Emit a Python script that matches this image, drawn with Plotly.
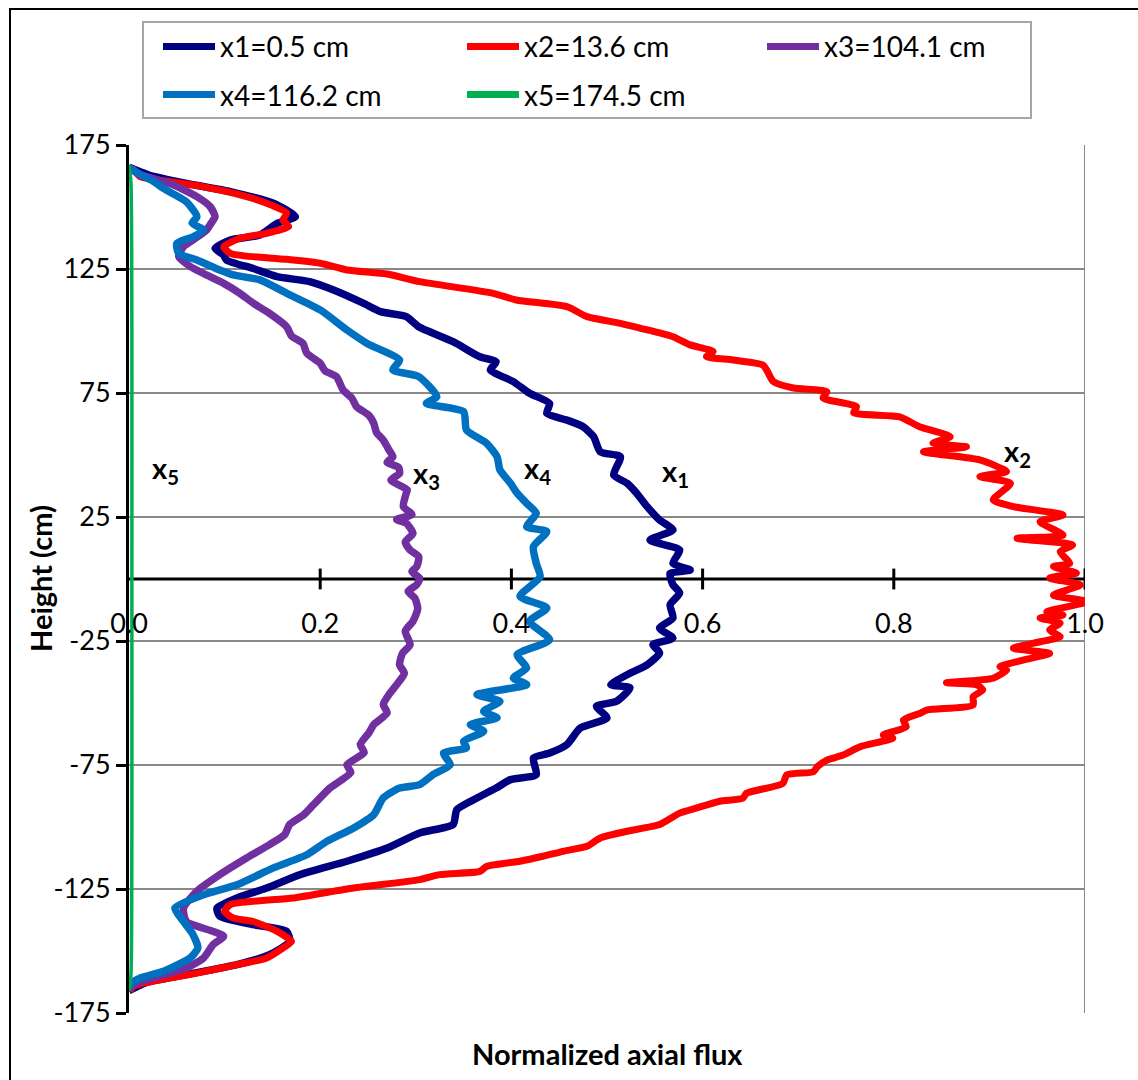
import plotly.graph_objects as go

# ---- data: (height cm, normalized axial flux) read along each traverse ----
SERIES_NAMES = ["x1=0.5 cm", "x2=13.6 cm", "x3=104.1 cm", "x4=116.2 cm", "x5=174.5 cm"]
SERIES_COLORS = ["#000080", "#ff0000", "#7030a0", "#0070c0", "#00b050"]

X1_PROFILE = [
    (166, 0.0), (163, 0.02), (159.5, 0.060), (156.2, 0.106), (151.5, 0.151), (146.1, 0.174),
    (143.4, 0.155), (138.7, 0.137), (136.7, 0.106), (133.3, 0.090), (130.6, 0.099), (128.6, 0.102),
    (125.2, 0.130), (121.9, 0.155), (119.9, 0.189), (116.5, 0.214), (111.2, 0.245), (107.8, 0.263),
    (105.8, 0.290), (101.7, 0.303), (95.7, 0.339), (89.6, 0.367), (87.6, 0.384), (84.3, 0.378),
    (79.6, 0.402), (74.9, 0.419), (70.8, 0.440), (66.8, 0.437), (64.1, 0.458), (61.4, 0.475),
    (57.4, 0.486), (51.3, 0.493), (49.3, 0.514), (41.9, 0.507), (38.6, 0.521), (34.6, 0.531),
    (29.2, 0.542), (23.8, 0.555), (19.8, 0.569), (15.7, 0.545), (11.7, 0.576), (6.3, 0.569),
    (3.6, 0.587), (2.3, 0.566), (-2.3, 0.569), (-5.6, 0.576), (-10.4, 0.566), (-15.7, 0.569),
    (-19.8, 0.555), (-23.8, 0.569), (-26.5, 0.548), (-29.8, 0.555), (-34.6, 0.542), (-38.6, 0.521),
    (-42.6, 0.504), (-43.9, 0.524), (-49.3, 0.510), (-51.3, 0.489), (-56, 0.500), (-60.1, 0.472),
    (-66.8, 0.458), (-70.2, 0.440), (-72.2, 0.423), (-78.9, 0.426), (-80.9, 0.399), (-84.3, 0.384),
    (-88.3, 0.364), (-93, 0.343), (-99, 0.339), (-102.4, 0.304), (-108.5, 0.270), (-113.8, 0.228),
    (-119.2, 0.179), (-124.6, 0.144), (-128.6, 0.113), (-132.7, 0.092), (-136, 0.095), (-139.4, 0.130),
    (-142.1, 0.165), (-146.2, 0.168), (-151.5, 0.147), (-155.5, 0.113), (-159.5, 0.060), (-162.5, 0.02),
    (-166, 0.0),
]

X2_PROFILE = [
    (166, 0.003), (162.2, 0.012), (160.2, 0.043), (158.2, 0.077), (154.2, 0.123), (151.5, 0.144),
    (147.5, 0.165), (144.8, 0.161), (142.1, 0.167), (139.4, 0.144), (137.4, 0.116), (134, 0.099),
    (131.3, 0.106), (130.2, 0.123), (128.9, 0.165), (127.3, 0.200), (124.6, 0.228), (123, 0.270),
    (119.9, 0.304), (115.2, 0.381), (112.5, 0.405), (109.8, 0.458), (105.8, 0.479), (103.1, 0.514),
    (101.1, 0.535), (97.7, 0.569), (94.4, 0.587), (91.7, 0.611), (89.7, 0.604), (88.3, 0.632),
    (86.3, 0.663), (84.3, 0.667), (79.6, 0.674), (77, 0.695), (75.5, 0.730), (73, 0.726),
    (69.5, 0.761), (67, 0.758), (65.4, 0.806), (61.4, 0.827), (57.4, 0.859), (54.8, 0.841),
    (53.3, 0.876), (51.3, 0.831), (48, 0.890), (43.3, 0.918), (41.3, 0.890), (38.6, 0.922),
    (31.9, 0.904), (29.2, 0.925), (25.8, 0.977), (23.1, 0.953), (17.7, 0.977), (16.4, 0.929),
    (13.7, 0.987), (11, 0.974), (6.3, 0.984), (5, 0.967), (2.4, 0.991), (0.4, 0.963),
    (-2.4, 0.995), (-6.5, 0.967), (-9.1, 1.002), (-13.2, 0.960), (-14.5, 0.977), (-15.7, 0.953),
    (-17.8, 0.974), (-20.6, 0.963), (-23.3, 0.974), (-25.3, 0.953), (-27.9, 0.925), (-30, 0.963),
    (-32.7, 0.935), (-35.4, 0.911), (-36.7, 0.918), (-40, 0.904), (-41.8, 0.855), (-42.7, 0.887),
    (-44.8, 0.893), (-47.4, 0.883), (-50.8, 0.883), (-52.8, 0.835), (-54.2, 0.827), (-56.9, 0.810),
    (-59.6, 0.813), (-62.9, 0.789), (-64.2, 0.799), (-67.6, 0.765), (-71, 0.747), (-73, 0.730),
    (-75.7, 0.720), (-77.7, 0.716), (-79, 0.688), (-82.4, 0.684), (-86.4, 0.646), (-88.4, 0.642),
    (-89.6, 0.618), (-92.3, 0.594), (-94.4, 0.576), (-99, 0.555), (-101.7, 0.521), (-104.4, 0.493),
    (-107.8, 0.479), (-109.8, 0.454), (-111.8, 0.433), (-113.8, 0.409), (-115.9, 0.374), (-117.9, 0.367),
    (-119.2, 0.325), (-121.2, 0.304), (-124.6, 0.235), (-128.6, 0.172), (-131.3, 0.106), (-134, 0.100),
    (-136.7, 0.109), (-138.1, 0.130), (-142.1, 0.155), (-146.2, 0.170), (-148.8, 0.161), (-152.8, 0.144),
    (-155.5, 0.113), (-158.9, 0.071), (-162.2, 0.025), (-164.2, 0.005), (-166.3, 0.001),
]

X3_PROFILE = [
    (166, 0.0), (163, 0.012), (159.5, 0.043), (154.2, 0.071), (150.1, 0.085), (146.1, 0.090),
    (143.5, 0.086), (140.7, 0.081), (136.7, 0.067), (134, 0.057), (130, 0.052), (126, 0.064),
    (122.6, 0.081), (119.2, 0.099), (115.2, 0.116), (111.2, 0.130), (107.1, 0.147), (101.7, 0.165),
    (98, 0.170), (95, 0.182), (91, 0.186), (87, 0.200), (84, 0.205), (81.6, 0.217), (76.2, 0.224),
    (73, 0.233), (69.5, 0.238), (66, 0.251), (62.8, 0.256), (59, 0.259), (56, 0.266),
    (52, 0.272), (49.3, 0.276), (47, 0.270), (45, 0.282), (42.6, 0.283), (39.9, 0.274),
    (36, 0.291), (34.6, 0.290), (29.2, 0.287), (26, 0.296), (24, 0.280), (22.5, 0.290),
    (18.4, 0.297), (15, 0.289), (11.7, 0.294), (9, 0.303), (5, 0.301), (3, 0.296),
    (0.3, 0.304), (-2.3, 0.301), (-5, 0.292), (-7.7, 0.299), (-12, 0.302), (-17.1, 0.297),
    (-21, 0.289), (-26.5, 0.294), (-30, 0.286), (-34.6, 0.283), (-38, 0.288), (-42.6, 0.280),
    (-46, 0.273), (-50.6, 0.266), (-54, 0.270), (-58.7, 0.256), (-62, 0.251), (-66.8, 0.242),
    (-70, 0.246), (-74.9, 0.228), (-78, 0.232), (-84.3, 0.210), (-91, 0.193), (-95, 0.183),
    (-99, 0.168), (-103, 0.163), (-107.1, 0.147), (-112.5, 0.123), (-119.2, 0.095), (-125.9, 0.071),
    (-132.7, 0.057), (-138.1, 0.060), (-142.1, 0.088), (-144.1, 0.099), (-147.4, 0.088), (-152.8, 0.078),
    (-156.9, 0.060), (-160.9, 0.025), (-163.5, 0.005), (-165.5, 0.0),
]

X4_PROFILE = [
    (166, 0.0), (163, 0.012), (160.5, 0.025), (157.5, 0.036), (152.1, 0.060), (146.1, 0.071),
    (143.5, 0.066), (140.7, 0.078), (138, 0.067), (135.3, 0.050), (131.3, 0.052), (128.6, 0.071),
    (124.6, 0.095), (122.6, 0.109), (120.6, 0.137), (115.2, 0.165), (108.5, 0.200), (100.4, 0.228),
    (95, 0.249), (88.3, 0.283), (84.3, 0.276), (81.6, 0.303), (73.5, 0.322), (70.8, 0.311),
    (67.5, 0.350), (60.1, 0.353), (54.7, 0.374), (49.3, 0.385), (44, 0.388), (38.6, 0.399),
    (34.6, 0.406), (30.5, 0.416), (26.5, 0.426), (21.1, 0.416), (19.1, 0.437), (13, 0.423),
    (6.3, 0.426), (0.9, 0.430), (-7, 0.409), (-11.7, 0.437), (-17.1, 0.419), (-24.5, 0.440),
    (-30.5, 0.406), (-35.9, 0.416), (-39.9, 0.402), (-42.6, 0.416), (-46.6, 0.364), (-49.3, 0.388),
    (-53.4, 0.371), (-56, 0.385), (-58.7, 0.357), (-61.4, 0.371), (-65.4, 0.350), (-68.1, 0.353),
    (-70.2, 0.329), (-74.9, 0.336), (-78.9, 0.318), (-82.9, 0.304), (-84.3, 0.283), (-88.3, 0.266),
    (-95, 0.256), (-100.4, 0.235), (-105.8, 0.207), (-111.2, 0.186), (-116.5, 0.151), (-123.3, 0.113),
    (-127.3, 0.078), (-132.7, 0.048), (-138.1, 0.057), (-143.4, 0.067), (-148.8, 0.072), (-152.8, 0.064),
    (-158.2, 0.036), (-160.9, 0.012), (-162.9, 0.003), (-165, 0.0),
]

X5_PROFILE = [
    (167, 0.0), (160, 0.002), (100, 0.003), (0, 0.003), (-100, 0.003), (-160, 0.002), (-166, 0.0),
]

PROFILES = [X1_PROFILE, X2_PROFILE, X3_PROFILE, X4_PROFILE, X5_PROFILE]
LINE_WIDTHS = [7.5, 7, 7.5, 7.5, 3.5]

# curve tags placed next to each profile: (flux, height, subscript)
CURVE_TAGS = [(0.038, 44, "5"), (0.311, 42, "3"), (0.427, 44, "4"), (0.572, 43, "1"), (0.929, 51, "2")]

Y_TICKS = [-175, -125, -75, -25, 25, 75, 125, 175]
Y_TICK_TEXT = ["-175", "-125", "-75", "-25", "25", "75", "125", "175"]
X_TICKS = [0.0, 0.2, 0.4, 0.6, 0.8, 1.0]
X_TICK_TEXT = ["0.0", "0.2", "0.4", "0.6", "0.8", "1.0"]

# ---- layout geometry (pixels) ----
W, H = 1138, 1080
PL, PR, PT, PB = 129, 1085, 145, 1013
FONT = "Lato, Carlito, Calibri, sans-serif"


def paper_x(px):
    return (px - PL) / (PR - PL)


def paper_y(py):
    return (PB - py) / (PB - PT)


fig = go.Figure()

for name, color, width, prof in zip(SERIES_NAMES, SERIES_COLORS, LINE_WIDTHS, PROFILES):
    fig.add_trace(go.Scatter(
        x=[p[1] for p in prof],
        y=[p[0] for p in prof],
        mode="lines",
        name=name,
        line=dict(color=color, width=width, shape="spline", smoothing=0.6),
        showlegend=False,
    ))

shapes = []
# x axis drawn through height 0 with crossing tick marks
shapes.append(dict(type="line", xref="x", yref="y", x0=0, x1=1.0, y0=0, y1=0,
                   line=dict(color="black", width=3), layer="between"))
for t in X_TICKS[1:]:
    shapes.append(dict(type="line", xref="x", yref="y", x0=t, x1=t, y0=-4.2, y1=4.2,
                       line=dict(color="black", width=3), layer="between"))
# right edge of plot area
shapes.append(dict(type="line", xref="x", yref="y", x0=1.0, x1=1.0, y0=-175, y1=175,
                   line=dict(color="#898989", width=2), layer="below"))
# outer chart frame
shapes.append(dict(type="rect", xref="paper", yref="paper",
                   x0=paper_x(10), x1=paper_x(1160), y0=paper_y(1100), y1=paper_y(9),
                   line=dict(color="black", width=2), fillcolor="rgba(0,0,0,0)", layer="below"))

# legend box
shapes.append(dict(type="rect", xref="paper", yref="paper",
                   x0=paper_x(143), x1=paper_x(1031), y0=paper_y(118), y1=paper_y(22),
                   line=dict(color="#a6a6a6", width=2), fillcolor="white", layer="below"))
legend_slots = [(163, 46.5), (467, 46.5), (767, 46.5), (163, 94.5), (467, 94.5)]
annotations = []
for (lx, ly), name, color in zip(legend_slots, SERIES_NAMES, SERIES_COLORS):
    shapes.append(dict(type="line", xref="paper", yref="paper",
                       x0=paper_x(lx), x1=paper_x(lx + 52), y0=paper_y(ly), y1=paper_y(ly),
                       line=dict(color=color, width=7)))
    annotations.append(dict(xref="paper", yref="paper", x=paper_x(lx + 55), y=paper_y(ly),
                            text=name, showarrow=False, xanchor="left", yanchor="middle",
                            font=dict(family=FONT, size=28, color="black")))

for fx, hy, sub in CURVE_TAGS:
    annotations.append(dict(xref="x", yref="y", x=fx, y=hy, text=f"<b>x<sub>{sub}</sub></b>",
                            showarrow=False, xanchor="center", yanchor="middle",
                            font=dict(family=FONT, size=29, color="black")))

annotations.append(dict(xref="paper", yref="paper", x=paper_x(607), y=paper_y(1053),
                        text="<b>Normalized axial flux</b>", showarrow=False,
                        xanchor="center", yanchor="middle",
                        font=dict(family=FONT, size=29, color="black")))
annotations.append(dict(xref="paper", yref="paper", x=paper_x(40), y=0.5,
                        text="<b>Height (cm)</b>", showarrow=False, textangle=-90,
                        xanchor="center", yanchor="middle",
                        font=dict(family=FONT, size=29, color="black")))

fig.update_layout(
    width=W, height=H,
    margin=dict(l=PL, r=W - PR, t=PT, b=H - PB, pad=0),
    paper_bgcolor="white", plot_bgcolor="white",
    font=dict(family=FONT, size=27, color="black"),
    shapes=shapes, annotations=annotations,
    showlegend=False,
    xaxis=dict(
        range=[0, 1.0], tickvals=X_TICKS, ticktext=X_TICK_TEXT,
        showgrid=False, zeroline=False, showline=False, ticks="",
        anchor="free", position=0.5, ticklabelstandoff=26,
        tickfont=dict(family=FONT, size=27, color="black"),
    ),
    yaxis=dict(
        range=[-175, 175], tickvals=Y_TICKS, ticktext=Y_TICK_TEXT,
        showgrid=True, gridcolor="#898989", gridwidth=2,
        zeroline=False, showline=True, linecolor="black", linewidth=3,
        ticks="outside", ticklen=10, tickwidth=3, tickcolor="black",
        layer="below traces",
        tickfont=dict(family=FONT, size=27, color="black"),
    ),
)

fig.write_html("out.html")
